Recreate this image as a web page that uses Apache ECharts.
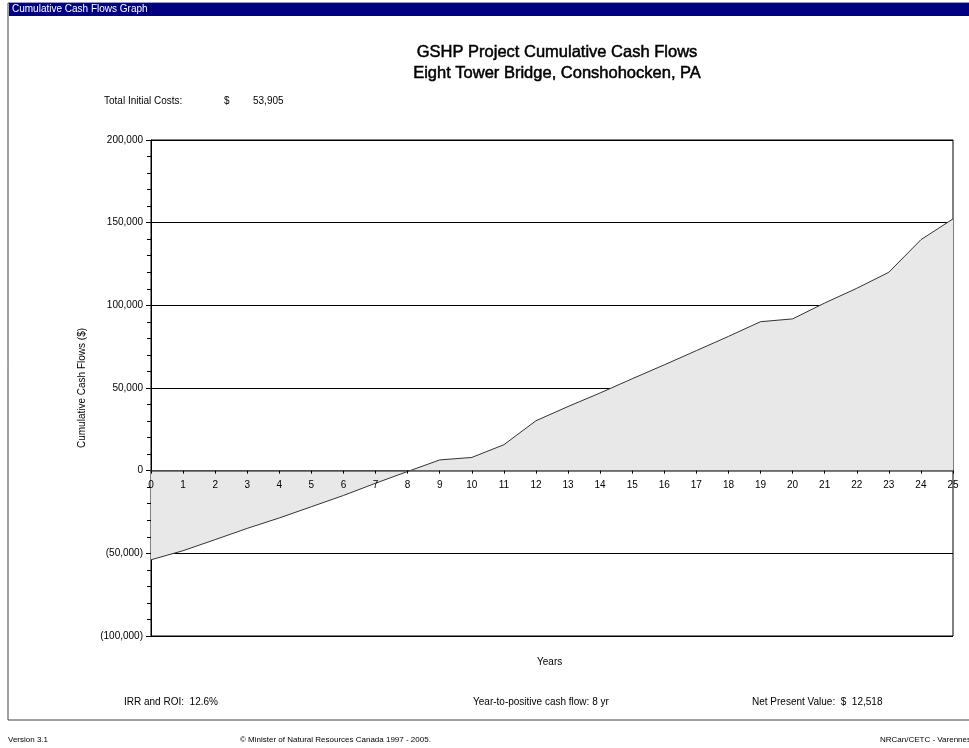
<!DOCTYPE html>
<html>
<head>
<meta charset="utf-8">
<script src="https://cdn.jsdelivr.net/npm/echarts@6/dist/echarts.min.js"></script>
<style>
  html, body { margin: 0; padding: 0; background: #fff; }
  #chart { width: 969px; height: 748px; }
</style>
</head>
<body>
<div id="chart"></div>
<script>
// year index and cumulative cash flow ($)
var years = [0, 1, 2, 3, 4, 5, 6, 7, 8, 9, 10, 11, 12, 13, 14, 15, 16, 17, 18, 19, 20, 21, 22, 23, 24, 25]
var cumulative = [-53905, -48400, -41700, -34900, -28600, -21800, -15000, -7600, -500, 6500, 8000, 15700,
  30200, 38800, 47000, 55600, 64000, 72600, 81200, 90100, 91800, 101400, 110300, 120000, 139700, 152300]
var yTicks = [-100000, 200000, 50000] // min, max, step

var font = 'Liberation Sans, Arial, sans-serif'

function money(v) {
  var s = Math.abs(v).toString().replace(/\B(?=(\d{3})+(?!\d))/g, ',')
  return v < 0 ? '(' + s + ')' : s
}

function txt(left, top, text, opts) {
  return Object.assign({
    type: 'text', left: left, top: top,
    style: { text: text, fill: '#000', font: '10px ' + font }
  }, opts || {})
}

var gridTop = 140, gridBottom = 112
var plotH = 748 - gridTop - gridBottom
// x axis sits on the zero line, so shift it up from the bottom of the plot
var zeroOffset = -plotH * (0 - yTicks[0]) / (yTicks[1] - yTicks[0])

var chart = echarts.init(document.getElementById('chart'))
chart.setOption({
  animation: false,
  backgroundColor: '#fff',
  grid: {
    left: 151, right: 16, top: gridTop, bottom: gridBottom,
    show: true, borderColor: '#000', borderWidth: 1
  },
  title: [{
    text: 'GSHP Project Cumulative Cash Flows\nEight Tower Bridge, Conshohocken, PA',
    left: 552, top: 37, textAlign: 'center',
    textStyle: { fontFamily: font, fontSize: 16.5, fontWeight: 'normal', color: '#000', lineHeight: 21, textBorderColor: '#000', textBorderWidth: 0.5 }
  }],
  xAxis: {
    type: 'value', min: 0, max: 25, interval: 1,
    offset: zeroOffset, z: 5,
    axisLine: { onZero: false, lineStyle: { color: '#555', width: 1.5 } },
    axisTick: { show: true, length: 3, lineStyle: { color: '#000' } },
    axisLabel: { fontFamily: font, fontSize: 10, color: '#000', margin: 10, showMinLabel: true, showMaxLabel: true },
    splitLine: { show: false }
  },
  yAxis: {
    type: 'value', min: yTicks[0], max: yTicks[1], interval: yTicks[2],
    name: 'Cumulative Cash Flows ($)', nameLocation: 'middle', nameGap: 64, nameRotate: 90,
    nameTextStyle: { fontFamily: font, fontSize: 10, color: '#000' },
    axisLine: { show: true, lineStyle: { color: '#000' } },
    axisTick: { show: true, length: 5, lineStyle: { color: '#000' } },
    minorTick: { show: true, splitNumber: 5, length: 4, lineStyle: { color: '#000' } },
    axisLabel: { fontFamily: font, fontSize: 10, color: '#000', margin: 8, formatter: money },
    splitLine: { show: true, lineStyle: { color: '#000', width: 1 } }
  },
  series: [{
    type: 'line',
    data: years.map(function (y, i) { return [y, cumulative[i]] }),
    showSymbol: false,
    lineStyle: { color: '#333', width: 1 },
    areaStyle: { color: '#e8e8e8', opacity: 1 },
    z: 1
  }],
  graphic: [
    { type: 'rect', shape: { x: 8, y: 3, width: 970, height: 717 }, style: { fill: 'none', stroke: '#444', lineWidth: 1 }, silent: true },
    { type: 'rect', shape: { x: 9, y: 3, width: 960, height: 13 }, style: { fill: '#000080' }, silent: true },
    txt(12, 4, 'Cumulative Cash Flows Graph', { style: { text: 'Cumulative Cash Flows Graph', fill: '#fff', font: '10px ' + font } }),
    txt(104, 96, 'Total Initial Costs:'),
    txt(224, 96, '$'),
    txt(253, 96, '53,905'),
    txt(537, 657, 'Years'),
    txt(124, 697, 'IRR and ROI:  12.6%'),
    txt(473, 697, 'Year-to-positive cash flow: 8 yr'),
    txt(752, 697, 'Net Present Value:  $  12,518'),
    { type: 'text', left: 8, top: 736, style: { text: 'Version 3.1', fill: '#000', font: '8px ' + font } },
    { type: 'text', left: 240, top: 736, style: { text: '\u00a9 Minister of Natural Resources Canada 1997 - 2005.', fill: '#000', font: '8px ' + font } },
    { type: 'text', left: 880, top: 736, style: { text: 'NRCan/CETC - Varennes', fill: '#000', font: '8px ' + font } }
  ]
})
</script>
</body>
</html>
